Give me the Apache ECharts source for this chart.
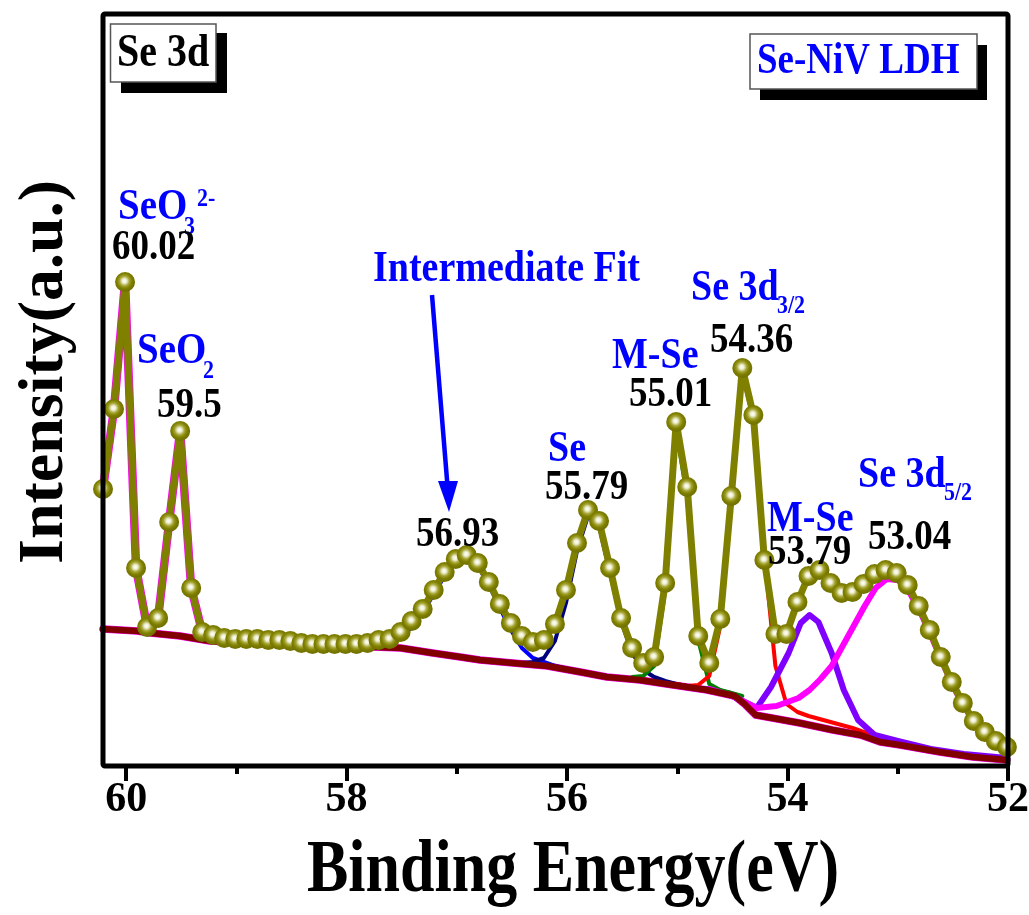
<!DOCTYPE html>
<html>
<head>
<meta charset="utf-8">
<script src="https://cdn.jsdelivr.net/npm/echarts/dist/echarts.min.js"></script>
<style>
html,body{margin:0;padding:0;background:#fff;}
#chart{width:1029px;height:915px;}
</style>
</head>
<body>
<div id="chart"></div>
<script>
// ---- Data (Binding energy in eV, intensity in a.u.) ----
const energy = [60.21, 60.11, 60.01, 59.91, 59.81, 59.71, 59.61, 59.51, 59.41, 59.31,
  59.21, 59.11, 59.01, 58.91, 58.81, 58.71, 58.61, 58.51, 58.41, 58.31,
  58.21, 58.11, 58.01, 57.91, 57.81, 57.71, 57.61, 57.51, 57.41, 57.31,
  57.21, 57.11, 57.01, 56.91, 56.81, 56.71, 56.61, 56.51, 56.41, 56.31,
  56.21, 56.11, 56.01, 55.91, 55.81, 55.71, 55.61, 55.51, 55.41, 55.31,
  55.21, 55.11, 55.01, 54.91, 54.81, 54.71, 54.61, 54.51, 54.41, 54.31,
  54.21, 54.11, 54.01, 53.91, 53.81, 53.71, 53.61, 53.51, 53.41, 53.31,
  53.21, 53.11, 53.01, 52.91, 52.81, 52.71, 52.61, 52.51, 52.41, 52.31,
  52.21, 52.11, 52.01];
const intensity = [277, 357, 484, 198, 139, 148, 244, 335, 178, 134,
  131, 128, 127, 127, 127, 126, 126, 125, 123, 122,
  122, 122, 122, 122, 123, 126, 127, 134, 145, 157,
  176, 194, 207, 211, 203, 184, 162, 143, 130, 124,
  126, 142, 176, 223, 256, 245, 198, 148, 118, 103,
  109, 183, 344, 279, 130, 103, 147, 270, 398, 351,
  206, 132, 132, 164, 190, 196, 183, 173, 174, 182,
  192, 196, 193, 181, 160, 136, 109, 84, 63, 45,
  34, 25, 19];

// Shirley-type background
const bgE = [60.21, 59.9, 59.78, 59.51, 59.24, 58.9, 58.42, 58.0, 57.51, 57.22, 56.97, 56.79, 56.49, 56.18, 55.88, 55.64, 55.34, 55.04, 54.73, 54.48, 54.39, 54.29, 54.19, 53.89, 53.59, 53.34, 53.16, 52.98, 52.62, 52.32, 52.01];
const bgI = [137, 135, 133, 130, 125, 123, 121, 120, 118, 113, 109, 106, 103, 100, 94, 89, 86, 81, 76, 70, 62, 51, 49, 43, 36, 31, 24, 21, 14, 9, 6];

// Fitted components
const interE = [57.81, 57.61, 57.51, 57.41, 57.31, 57.21, 57.11, 57.01, 56.91, 56.81, 56.71, 56.61, 56.51, 56.41, 56.31, 56.21, 56.11, 55.91, 55.71, 55.51];
const interI = [119, 121, 128, 139, 153, 172, 190, 204, 208, 200, 181, 158, 136, 118, 108, 104, 100, 95, 91, 88];

const seE = [56.41, 56.31, 56.21, 56.11, 56.01, 55.91, 55.81, 55.71, 55.61, 55.51, 55.41, 55.31, 55.21, 55.11, 55.01, 54.91, 54.71, 54.51, 54.31];
const seI = [103, 104, 108, 125, 163, 215, 250, 240, 193, 145, 113, 96, 89, 85, 82, 80, 77, 73, 56];

const mse1E = [55.41, 55.31, 55.21, 55.11, 55.01, 54.91, 54.81, 54.71, 54.61, 54.51, 54.41];
const mse1I = [89, 90, 100, 176, 336, 268, 126, 82, 76, 73, 70];

const d32E = [55.01, 54.91, 54.81, 54.71, 54.61, 54.51, 54.41, 54.31, 54.21, 54.11, 54.01, 53.91, 53.81, 53.61, 53.41, 53.21, 53.01, 52.8];
const d32I = [82, 80, 81, 90, 140, 265, 392, 347, 210, 100, 62, 54, 50, 44, 38, 30, 24, 18];

const mse2E = [54.71, 54.5, 54.28, 54.15, 53.99, 53.88, 53.8, 53.72, 53.6, 53.49, 53.36, 53.21, 53.0, 52.7, 52.4, 52.01];
const mse2I = [77, 70, 58, 79, 113, 143, 151, 144, 113, 76, 46, 31, 25, 17, 12, 8];

const d52E = [54.71, 54.5, 54.28, 54.1, 53.9, 53.8, 53.7, 53.6, 53.5, 53.4, 53.3, 53.2, 53.1, 53.0, 52.9, 52.8, 52.7, 52.6, 52.5, 52.4, 52.3, 52.2, 52.1, 52.01];
const d52I = [77, 70, 58, 60, 68, 76, 87, 100, 120, 140, 160, 178, 187, 186, 175, 155, 131, 105, 80, 60, 43, 31, 22, 17];

const majorTicks = [52, 54, 56, 58, 60];
const minorTicks = [53, 55, 57, 59];

// ---- helpers ----
const pair = (xs, ys) => xs.map((x, i) => [x, ys[i]]);
const FONT = '"Liberation Serif", "Times New Roman", serif';

const chart = echarts.init(document.getElementById('chart'), null, {renderer: 'canvas'});

const G = {left: 103, top: 14, right: 21, bottom: 149};
const GW = 1029 - G.left - G.right, GH = 915 - G.top - G.bottom;

function lineSeries(name, data, color, width, z) {
  return {
    name, type: 'line', data, symbol: 'none', smooth: false, z: z || 2,
    lineStyle: {color, width, join: 'round', cap: 'round'},
    xAxisIndex: 0, yAxisIndex: 0, clip: true, silent: true, animation: false
  };
}

function txt(text, x, y, size, color, sy) {
  return {
    type: 'text', x, y, scaleY: sy || 1.14, z: 120,
    style: {text, fill: color, font: 'bold ' + size + 'px ' + FONT, textAlign: 'left', textVerticalAlign: 'middle'}
  };
}

const BLUE = '#0000ff', BLACK = '#000000';

const olive = {
  type: 'radial', x: 0.47, y: 0.45, r: 0.5,
  colorStops: [
    {offset: 0, color: '#ffffff'},
    {offset: 0.22, color: '#efefd2'},
    {offset: 0.5, color: '#a3a332'},
    {offset: 0.75, color: '#808000'},
    {offset: 1, color: '#727200'}
  ]
};

const option = {
  animation: false,
  backgroundColor: '#fff',
  grid: {left: G.left, top: G.top, right: G.right, bottom: G.bottom, containLabel: false, outerBoundsMode: 'none'},
  xAxis: [{
    type: 'value', min: 52, max: 60.21, inverse: true, position: 'bottom',
    axisLine: {show: false, onZero: false},
    axisTick: {show: true, inside: false, length: 15, customValues: majorTicks, lineStyle: {color: '#000', width: 4}},
    axisLabel: {customValues: majorTicks, color: '#000', fontFamily: FONT, fontWeight: 'bold', fontSize: 42, margin: 13},
    splitLine: {show: false}
  }, {
    type: 'value', min: 52, max: 60.21, inverse: true, position: 'bottom',
    axisLine: {show: false, onZero: false},
    axisTick: {show: true, inside: false, length: 8, customValues: minorTicks, lineStyle: {color: '#000', width: 4}},
    axisLabel: {show: false},
    splitLine: {show: false}
  }],
  yAxis: {
    type: 'value', min: 0, max: 752,
    axisLine: {show: false}, axisTick: {show: false}, axisLabel: {show: false}, splitLine: {show: false}
  },
  series: [
    lineSeries('bg-outline', pair(bgE, bgI), '#ff00ff', 7.5, 1),
    lineSeries('Intermediate', pair(interE, interI), '#0000ff', 4, 2),
    lineSeries('Se', pair(seE, seI), '#000080', 4, 2),
    lineSeries('M-Se 55.01', pair(mse1E, mse1I), '#008000', 4, 2),
    lineSeries('Se 3d3/2', pair(d32E, d32I), '#ff0000', 4, 2),
    lineSeries('M-Se 53.79', pair(mse2E, mse2I), '#8000ff', 6, 2),
    lineSeries('Se 3d5/2', pair(d52E, d52I), '#ff00ff', 6, 2),
    lineSeries('Background', pair(bgE, bgI), '#800000', 6.5, 3),
    lineSeries('Envelope', pair(energy.slice(0, 12), intensity.slice(0, 12)), '#ff00ff', 8.5, 4),
    {
      name: 'Experimental', type: 'line', data: pair(energy, intensity), z: 5,
      symbol: 'circle', symbolSize: 20, showAllSymbol: true, clip: true,
      lineStyle: {color: '#808000', width: 7, join: 'round'},
      itemStyle: {color: olive, borderWidth: 0},
      silent: true, animation: false
    }
  ],
  graphic: [
    // plot frame
    {type: 'rect', z: 110, shape: {x: G.left, y: G.top, width: GW, height: GH, r: 2},
      style: {fill: 'none', stroke: '#000', lineWidth: 5}},
    // "Se 3d" box with shadow
    {type: 'rect', z: 111, shape: {x: 121, y: 33, width: 106, height: 60}, style: {fill: '#000'}},
    {type: 'rect', z: 112, shape: {x: 110.5, y: 24, width: 105.5, height: 58}, style: {fill: '#fff', stroke: '#555', lineWidth: 1.5}},
    txt('Se 3d', 117, 54, 40, BLACK, 1.18),
    // "Se-NiV LDH" box with shadow
    {type: 'rect', z: 111, shape: {x: 760, y: 45, width: 227, height: 55}, style: {fill: '#000'}},
    {type: 'rect', z: 112, shape: {x: 750, y: 34, width: 227, height: 55}, style: {fill: '#fff', stroke: '#555', lineWidth: 1.5}},
    txt('Se-NiV LDH', 757, 62, 37, BLUE, 1.18),
    // peak annotations
    txt('SeO', 118, 207.5, 39, BLUE),
    txt('3', 184, 228, 22, BLUE),
    txt('2-', 197, 200, 22, BLUE),
    txt('60.02', 112, 248, 37, BLACK),
    txt('SeO', 137, 351.5, 39, BLUE),
    txt('2', 203, 372, 22, BLUE),
    txt('59.5', 157, 406, 37, BLACK),
    txt('Intermediate Fit', 373, 270, 38, BLUE),
    txt('56.93', 416, 535, 37, BLACK),
    txt('Se', 548, 449.5, 38, BLUE),
    txt('55.79', 545, 488.5, 37, BLACK),
    txt('M-Se', 612, 356.5, 38, BLUE),
    txt('55.01', 629, 395, 37, BLACK),
    txt('Se 3d', 691, 288.5, 38, BLUE),
    txt('3/2', 777, 306.5, 22, BLUE),
    txt('54.36', 710, 341, 37, BLACK),
    txt('Se 3d', 858, 476, 38, BLUE),
    txt('5/2', 944, 493.5, 22, BLUE),
    txt('M-Se', 767, 520, 38, BLUE),
    txt('53.79', 768, 553.5, 37, BLACK),
    txt('53.04', 868, 538.5, 37, BLACK),
    // arrow
    {type: 'line', z: 115, shape: {x1: 432, y1: 295, x2: 447.5, y2: 486}, style: {stroke: BLUE, lineWidth: 4.5}},
    {type: 'polygon', z: 115, shape: {points: [[438, 481], [458, 481], [449, 512]]}, style: {fill: BLUE}},
    // axis titles
    {type: 'text', z: 120, x: 573, y: 872, scaleY: 1.18,
      style: {text: 'Binding Energy(eV)', fill: '#000', font: 'bold 62px ' + FONT, textAlign: 'center', textVerticalAlign: 'middle'}},
    {type: 'text', z: 120, x: 45, y: 372, rotation: Math.PI / 2,
      style: {text: 'Intensity(a.u.)', fill: '#000', font: 'bold 64px ' + FONT, textAlign: 'center', textVerticalAlign: 'middle'}}
  ]
};

chart.setOption(option);
</script>
</body>
</html>
